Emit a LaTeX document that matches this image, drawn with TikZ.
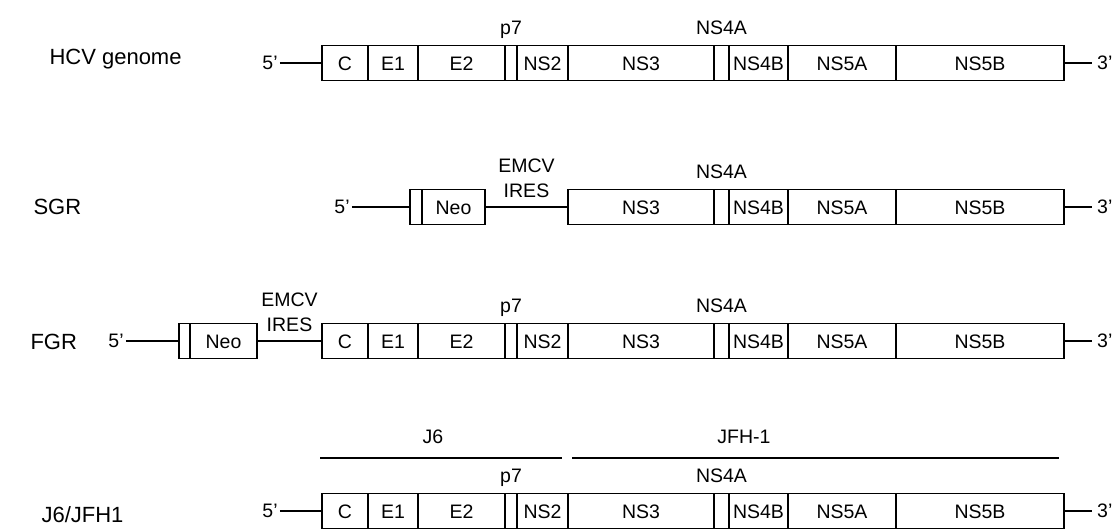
\documentclass[tikz,border=0pt]{standalone}
\usepackage{fontspec}
\setmainfont{Liberation Sans}
\usepackage{tikz}
\usetikzlibrary{positioning,calc}

\begin{document}
\begin{tikzpicture}[
    x=1pt, y=-1pt,
    font=\fontsize{19.5}{22}\selectfont,
    seg/.style={rectangle, draw=black, line width=1.2pt, fill=white, inner sep=0pt, outer sep=0pt, minimum height=35pt, text height=14pt, text depth=0pt},
    toplabel/.style={inner sep=2pt, text height=14pt, text depth=9pt},
    rowlabel/.style={anchor=west, font=\fontsize{22}{26}\selectfont},
    endlabel/.style={inner sep=2pt},
    ires/.style={above=8pt, inner sep=0pt, align=center, font=\fontsize{19.5}{25}\selectfont},
    strand/.style={line width=2.8pt},
    span/.style={line width=1.8pt}
]
\useasboundingbox (0,0) rectangle (1117,531);

\node[rowlabel] (hcvlabel) at (46,59) {HCV genome};
\node[seg, minimum width=46pt, anchor=west] (hcvC) at (322,63) {C};
\node[seg, minimum width=50pt, right=0pt of hcvC] (hcvE1) {E1};
\node[seg, minimum width=87pt, right=0pt of hcvE1] (hcvE2) {E2};
\node[seg, minimum width=12pt, right=0pt of hcvE2] (hcvP7) {};
\node[seg, minimum width=51pt, right=0pt of hcvP7] (hcvNS2) {NS2};
\node[seg, minimum width=146pt, right=0pt of hcvNS2] (hcvNS3) {NS3};
\node[seg, minimum width=15pt, right=0pt of hcvNS3] (hcvNS4A) {};
\node[seg, minimum width=59pt, right=0pt of hcvNS4A] (hcvNS4B) {NS4B};
\node[seg, minimum width=108pt, right=0pt of hcvNS4B] (hcvNS5A) {NS5A};
\node[seg, minimum width=168pt, right=0pt of hcvNS5A] (hcvNS5B) {NS5B};
\node[toplabel, above=0pt of hcvP7] (hcvp7label) {p7};
\node[toplabel, above=0pt of hcvNS4A] (hcvns4alabel) {NS4A};
\node[endlabel] (hcv5) at (270,63) {5’};
\coordinate[right=28pt of hcvNS5B] (hcv3end);
\node[endlabel, right=3pt of hcv3end] (hcv3) {3’};
\draw[strand] (hcv5) -- (hcvC);
\draw[strand] (hcvNS5B) -- (hcv3end);

\node[rowlabel] (sgrlabel) at (30,207) {SGR};
\node[seg, minimum width=12pt, anchor=west] (sgrTag) at (410,207) {};
\node[seg, minimum width=63pt, right=0pt of sgrTag] (sgrNeo) {Neo};
\node[seg, minimum width=146pt, anchor=west] (sgrNS3) at (568,207) {NS3};
\node[seg, minimum width=15pt, right=0pt of sgrNS3] (sgrNS4A) {};
\node[seg, minimum width=59pt, right=0pt of sgrNS4A] (sgrNS4B) {NS4B};
\node[seg, minimum width=108pt, right=0pt of sgrNS4B] (sgrNS5A) {NS5A};
\node[seg, minimum width=168pt, right=0pt of sgrNS5A] (sgrNS5B) {NS5B};
\node[toplabel, above=0pt of sgrNS4A] (sgrns4alabel) {NS4A};
\node[endlabel] (sgr5) at (342,207) {5’};
\coordinate[right=28pt of sgrNS5B] (sgr3end);
\node[endlabel, right=3pt of sgr3end] (sgr3) {3’};
\draw[strand] (sgr5) -- (sgrTag);
\draw[strand] (sgrNeo) -- node[ires] (sgrires) {EMCV\\IRES} (sgrNS3);
\draw[strand] (sgrNS5B) -- (sgr3end);

\node[rowlabel] (fgrlabel) at (27,342) {FGR};
\node[seg, minimum width=11pt, anchor=west] (fgrTag) at (179,341) {};
\node[seg, minimum width=67pt, right=0pt of fgrTag] (fgrNeo) {Neo};
\node[seg, minimum width=46pt, anchor=west] (fgrC) at (322,341) {C};
\node[seg, minimum width=50pt, right=0pt of fgrC] (fgrE1) {E1};
\node[seg, minimum width=87pt, right=0pt of fgrE1] (fgrE2) {E2};
\node[seg, minimum width=12pt, right=0pt of fgrE2] (fgrP7) {};
\node[seg, minimum width=51pt, right=0pt of fgrP7] (fgrNS2) {NS2};
\node[seg, minimum width=146pt, right=0pt of fgrNS2] (fgrNS3) {NS3};
\node[seg, minimum width=15pt, right=0pt of fgrNS3] (fgrNS4A) {};
\node[seg, minimum width=59pt, right=0pt of fgrNS4A] (fgrNS4B) {NS4B};
\node[seg, minimum width=108pt, right=0pt of fgrNS4B] (fgrNS5A) {NS5A};
\node[seg, minimum width=168pt, right=0pt of fgrNS5A] (fgrNS5B) {NS5B};
\node[toplabel, above=0pt of fgrP7] (fgrp7label) {p7};
\node[toplabel, above=0pt of fgrNS4A] (fgrns4alabel) {NS4A};
\node[endlabel] (fgr5) at (116,341) {5’};
\coordinate[right=28pt of fgrNS5B] (fgr3end);
\node[endlabel, right=3pt of fgr3end] (fgr3) {3’};
\draw[strand] (fgr5) -- (fgrTag);
\draw[strand] (fgrNeo) -- node[ires] (fgrires) {EMCV\\IRES} (fgrC);
\draw[strand] (fgrNS5B) -- (fgr3end);

\node[rowlabel] (jfhlabel) at (38,515) {J6/JFH1};
\node[seg, minimum width=46pt, anchor=west] (jC) at (322,511) {C};
\node[seg, minimum width=50pt, right=0pt of jC] (jE1) {E1};
\node[seg, minimum width=87pt, right=0pt of jE1] (jE2) {E2};
\node[seg, minimum width=12pt, right=0pt of jE2] (jP7) {};
\node[seg, minimum width=51pt, right=0pt of jP7] (jNS2) {NS2};
\node[seg, minimum width=146pt, right=0pt of jNS2] (jNS3) {NS3};
\node[seg, minimum width=15pt, right=0pt of jNS3] (jNS4A) {};
\node[seg, minimum width=59pt, right=0pt of jNS4A] (jNS4B) {NS4B};
\node[seg, minimum width=108pt, right=0pt of jNS4B] (jNS5A) {NS5A};
\node[seg, minimum width=168pt, right=0pt of jNS5A] (jNS5B) {NS5B};
\node[toplabel, above=0pt of jP7] (jp7label) {p7};
\node[toplabel, above=0pt of jNS4A] (jns4alabel) {NS4A};
\node[endlabel] (j5) at (270,511) {5’};
\coordinate[right=28pt of jNS5B] (j3end);
\node[endlabel, right=3pt of j3end] (j3) {3’};
\draw[strand] (j5) -- (jC);
\draw[strand] (jNS5B) -- (j3end);

\coordinate (j6start) at (320,458);
\coordinate (j6end) at (562,458);
\coordinate (jfhstart) at (572,458);
\coordinate (jfhend) at (1059,458);
\draw[span] (j6start) -- (j6end);
\draw[span] (jfhstart) -- (jfhend);
\node (j6label) at (433,437) {J6};
\node (jfhname) at (744,437) {JFH-1};
\end{tikzpicture}
\end{document}
